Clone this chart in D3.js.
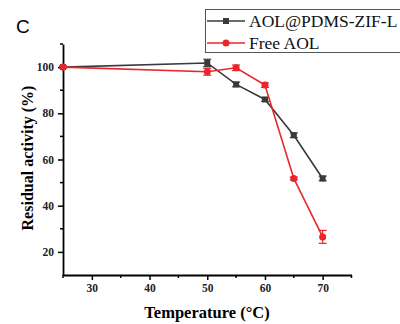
<!DOCTYPE html>
<html>
<head>
<meta charset="utf-8">
<script src="https://cdn.jsdelivr.net/npm/d3@7"></script>
<style>
  body { margin: 0; background: #fff; }
  svg { display: block; }
  text { font-family: "Liberation Serif", "Times New Roman", serif; }
</style>
</head>
<body>
<svg id="chart" width="400" height="324"></svg>
<script>
var width = 400, height = 324

// temperatures (°C)
var temps = [25, 50, 55, 60, 65, 70]
// residual activity (%)
var zifVals = [100, 101.8, 92.5, 86, 70.5, 51.8]
var zifErr = [0.4, 1.6, 1, 0.8, 1, 1]
var freeVals = [100, 98, 99.7, 92.2, 51.8, 26.5]
var freeErr = [0.4, 1.5, 1.2, 1, 0.6, 2.8]

var xTicks = [30, 40, 50, 60, 70]
var xMinor = [25, 35, 45, 55, 65, 75]
var yTicks = [20, 40, 60, 80, 100]
var yMinor = [30, 50, 70, 90, 110]

var series = [
  {name: "AOL@PDMS-ZIF-L", vals: zifVals, err: zifErr, color: "#3a3a3a", shape: "square"},
  {name: "Free AOL", vals: freeVals, err: freeErr, color: "#e8262b", shape: "circle"}
]

var svg = d3.select("svg#chart")

var x = d3.scaleLinear().domain([25, 75]).range([63, 351.5])
var y = d3.scaleLinear().domain([10, 110]).range([275, 44])

// axes
var xAxis = svg.append("g").attr("transform", "translate(0,275)")
xAxis.call(d3.axisBottom(x).tickValues(xTicks).tickSize(5).tickPadding(4).tickSizeOuter(0))
xAxis.append("g").selectAll("line")
  .data(xMinor)
  .enter().append("line")
    .attr("x1", d => x(d)).attr("x2", d => x(d))
    .attr("y1", 0).attr("y2", 3)
    .attr("stroke", "#000").attr("stroke-width", 1.5)

var yAxis = svg.append("g").attr("transform", "translate(63,0)")
yAxis.call(d3.axisLeft(y).tickValues(yTicks).tickSize(5).tickPadding(4).tickSizeOuter(0))
yAxis.append("g").selectAll("line")
  .data(yMinor)
  .enter().append("line")
    .attr("y1", d => y(d)).attr("y2", d => y(d))
    .attr("x1", 0).attr("x2", -3)
    .attr("stroke", "#000").attr("stroke-width", 1.5)

svg.selectAll(".domain").attr("stroke", "#000").attr("stroke-width", 1.8)
svg.selectAll(".tick line").attr("stroke", "#000").attr("stroke-width", 1.5)
svg.selectAll(".tick text")
  .style("font-family", "Liberation Serif, serif")
  .attr("font-weight", "bold")
  .attr("font-size", 11.5)
  .attr("fill", "#222")

// axis titles
svg.append("text")
  .attr("x", 207).attr("y", 318)
  .attr("text-anchor", "middle")
  .attr("font-weight", "bold")
  .attr("font-size", 16.5)
  .text("Temperature (°C)")

svg.append("text")
  .attr("transform", "translate(33,158) rotate(-90)")
  .attr("text-anchor", "middle")
  .attr("font-weight", "bold")
  .attr("font-size", 16)
  .text("Residual activity (%)")

// panel letter
svg.append("text")
  .attr("x", 16).attr("y", 33)
  .style("font-family", "Liberation Sans, Arial, sans-serif")
  .attr("font-size", 19)
  .text("C")

// series
var line = d3.line().x(d => x(d.t)).y(d => y(d.v))

series.forEach(function(s) {
  var pts = temps.map((t, i) => ({t: t, v: s.vals[i], e: s.err[i]}))
  var g = svg.append("g")

  g.append("path")
    .datum(pts)
    .attr("d", line)
    .attr("fill", "none")
    .attr("stroke", s.color)
    .attr("stroke-width", 1.6)

  var eb = g.selectAll("g.err").data(pts).enter().append("g")
  eb.append("line")
    .attr("x1", d => x(d.t)).attr("x2", d => x(d.t))
    .attr("y1", d => y(d.v - d.e)).attr("y2", d => y(d.v + d.e))
    .attr("stroke", s.color).attr("stroke-width", 1.2)
  eb.selectAll("line.cap")
    .data(d => [d.v - d.e, d.v + d.e].map(v => ({t: d.t, v: v})))
    .enter().append("line")
      .attr("x1", d => x(d.t) - 4).attr("x2", d => x(d.t) + 4)
      .attr("y1", d => y(d.v)).attr("y2", d => y(d.v))
      .attr("stroke", s.color).attr("stroke-width", 1.2)

  if (s.shape == "square") {
    g.selectAll("rect").data(pts).enter().append("rect")
      .attr("x", d => x(d.t) - 3).attr("y", d => y(d.v) - 3)
      .attr("width", 6).attr("height", 6)
      .attr("fill", s.color)
  } else {
    g.selectAll("circle").data(pts).enter().append("circle")
      .attr("cx", d => x(d.t)).attr("cy", d => y(d.v))
      .attr("r", 3.5)
      .attr("fill", s.color)
  }
})

// legend
var legend = svg.append("g")
legend.append("rect")
  .attr("x", 205.5).attr("y", 9.5)
  .attr("width", 200).attr("height", 43)
  .attr("fill", "#fff")
  .attr("stroke", "#555").attr("stroke-width", 1)

var item = legend.selectAll("g.item").data(series).enter().append("g")
  .attr("transform", (d, i) => "translate(0," + (21 + i * 22) + ")")
item.append("line")
  .attr("x1", 207).attr("x2", 245).attr("y1", 0).attr("y2", 0)
  .attr("stroke", d => d.color).attr("stroke-width", 1.6)
item.filter(d => d.shape == "square").append("rect")
  .attr("x", 223).attr("y", -3).attr("width", 6).attr("height", 6)
  .attr("fill", d => d.color)
item.filter(d => d.shape == "circle").append("circle")
  .attr("cx", 226).attr("cy", 0).attr("r", 3.5)
  .attr("fill", d => d.color)
item.append("text")
  .attr("x", 249).attr("y", 6)
  .attr("font-size", 17.5)
  .attr("fill", "#111")
  .text(d => d.name)
</script>
</body>
</html>
